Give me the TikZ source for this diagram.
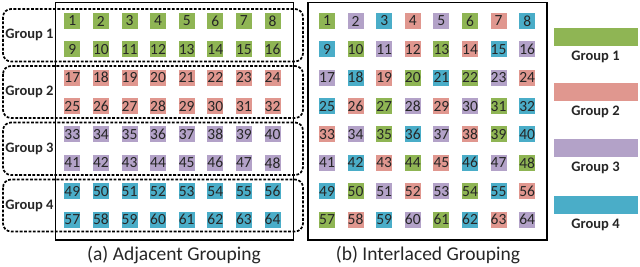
\documentclass[tikz,border=0pt]{standalone}
\usepackage{fontspec}
\setmainfont{Carlito}
\definecolor{g0}{HTML}{8FB554}
\definecolor{g1}{HTML}{E0978F}
\definecolor{g2}{HTML}{B3A2C8}
\definecolor{g3}{HTML}{4AADC8}
\definecolor{txt}{HTML}{262626}
\begin{document}
\begin{tikzpicture}[x=1pt,y=-1pt,
  sq/.style={minimum width=16pt,minimum height=16pt,inner sep=0pt,
    font=\fontsize{15.5}{15.5}\selectfont,text=txt},
  panel/.style={draw=black,line width=1.7pt},
  grp/.style={draw=black,line width=1.7pt,dash pattern=on 2.8pt off 1.6pt,rounded corners=8pt},
  glabel/.style={font=\fontsize{14.5}{14.5}\selectfont\bfseries,text=txt},
  captext/.style={font=\fontsize{19.5}{19.5}\selectfont,text=txt},
  bar/.style={minimum width=84pt,minimum height=18pt,inner sep=0pt}]
\useasboundingbox (0,0) rectangle (640,267);
\def\imap{{0,2,3,1,2,0,1,3, 3,0,2,1,0,1,3,2, 2,3,1,0,3,0,2,1, 3,1,0,2,1,2,0,3, 1,2,0,3,2,1,0,3, 2,3,1,0,1,3,2,0, 3,0,2,1,2,0,3,1, 0,1,3,2,0,3,1,2}}
% panels
\draw[panel] (55.5,2.5) rectangle (293.5,240);
\draw[panel] (308,2.5) rectangle (547,240);
% group dashed boxes and labels
\foreach \k/\yt/\yb in {1/9/61.5,2/66/118,3/122.5/175,4/179.5/231.5}{
  \draw[grp] (3,\yt) rectangle (303,\yb);
  \node[glabel] (gl\k) at (29.5,{(\yt+\yb)/2}) {Group \k};
}
% squares
\foreach \r in {0,...,7}{
  \foreach \c in {0,...,7}{
    \pgfmathtruncatemacro\n{8*\r+\c+1}
    \pgfmathtruncatemacro\g{int(\r/2)}
    \pgfmathtruncatemacro\h{\imap[\n-1]}
    \node[sq,fill=g\g] (l\n) at ({72.3+28.6*\c},{21+28.36*\r}) {\n};
    \node[sq,fill=g\h] (r\n) at ({327+28.6*\c},{21+28.36*\r}) {\n};
  }
}
% captions
\node[captext] (capa) at (174,255) {(a) Adjacent Grouping};
\node[captext] (capb) at (428,255) {(b) Interlaced Grouping};
% legend
\foreach \k/\y in {1/37,2/92,3/148,4/204.5}{
  \pgfmathtruncatemacro\g{\k-1}
  \node[bar,fill=g\g] (bar\k) at (596,\y) {};
  \node[glabel] (leg\k) at (595.5,{\y+20}) {Group \k};
}
\end{tikzpicture}
\end{document}
